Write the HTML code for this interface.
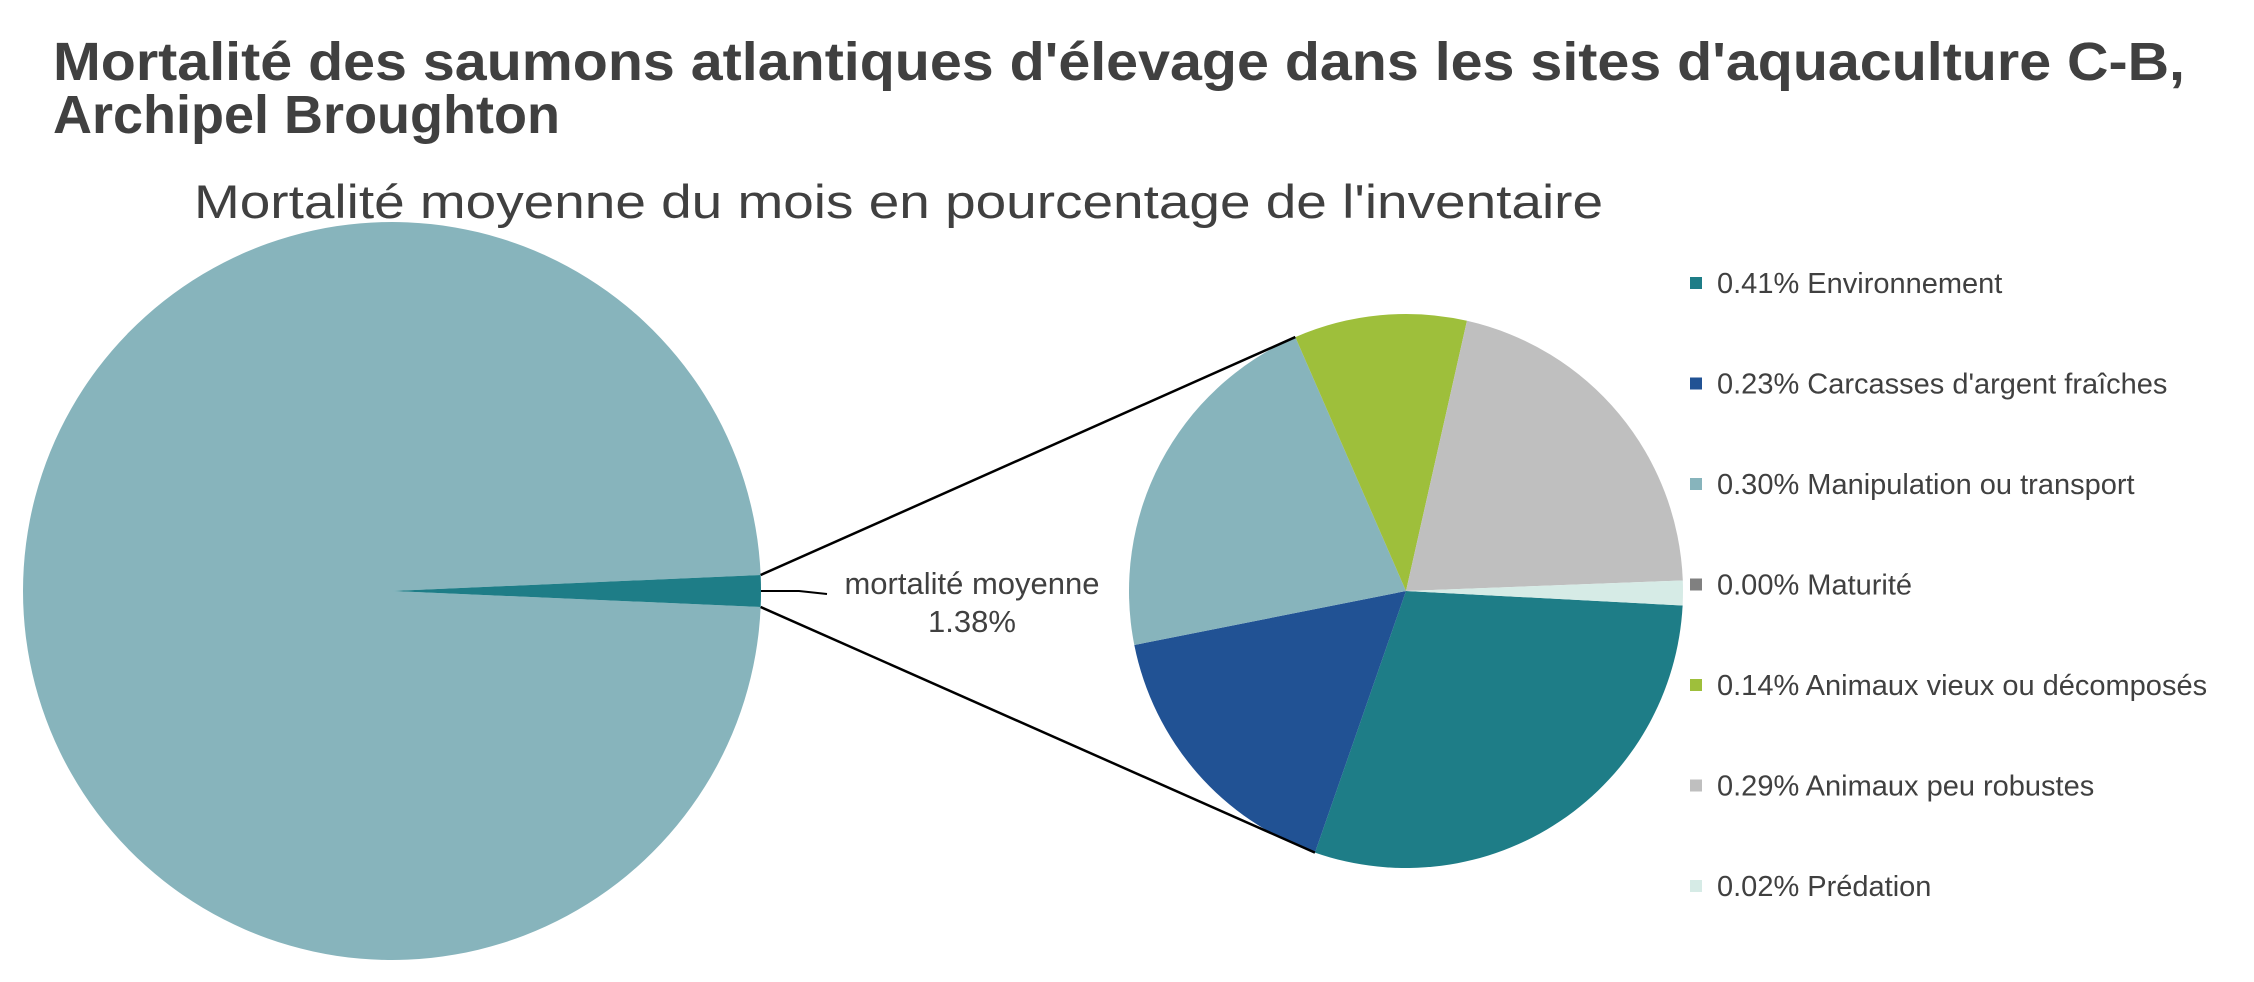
<!DOCTYPE html>
<html><head><meta charset="utf-8"><style>
html,body{margin:0;padding:0;background:#fff;}
svg{display:block;font-family:"Liberation Sans",Arial,sans-serif;}
</style></head><body>
<svg id="chart" width="2254" height="982" viewBox="0 0 2254 982">
<text x="53" y="80" font-size="54" font-weight="bold" fill="#404040" textLength="2132" lengthAdjust="spacingAndGlyphs">Mortalité des saumons atlantiques d'élevage dans les sites d'aquaculture C-B,</text>
<text x="53" y="133" font-size="54" font-weight="bold" fill="#404040">Archipel Broughton</text>
<text x="194" y="218" font-size="47" fill="#404040" textLength="1409" lengthAdjust="spacingAndGlyphs">Mortalité moyenne du mois en pourcentage de l'inventaire</text>
<g id="big"></g><g id="small"></g><g id="conn"></g><g id="legend"></g>
</svg>
<script>
const categories=["Environnement","Carcasses d'argent fraîches","Manipulation ou transport","Maturité","Animaux vieux ou décomposés","Animaux peu robustes","Prédation"];
const values=[0.41,0.23,0.30,0.00,0.14,0.29,0.02];
const labels=["0.41%","0.23%","0.30%","0.00%","0.14%","0.29%","0.02%"];
const totalLabel="1.38%";
const totalValue=1.38;
const colors=["#1e7d87","#215294","#87b4bc","#808080","#9ebf3b","#bfbfbf","#d6ebe6"];
const NS="http://www.w3.org/2000/svg";
function el(t,a,p){const e=document.createElementNS(NS,t);for(const k in a)e.setAttribute(k,a[k]);p.appendChild(e);return e;}
function pt(cx,cy,r,deg){const a=deg*Math.PI/180;return [cx+r*Math.cos(a),cy+r*Math.sin(a)];}
function arc(cx,cy,r,a0,a1){const p0=pt(cx,cy,r,a0),p1=pt(cx,cy,r,a1);const large=(a1-a0)>180?1:0;
 return `M${cx},${cy}L${p0[0]},${p0[1]}A${r},${r} 0 ${large} 1 ${p1[0]},${p1[1]}Z`;}
const B={cx:392,cy:591,r:369};
const big=document.getElementById('big');
const frac=totalValue/100*360;
const bigRest=el('path',{d:arc(B.cx,B.cy,B.r,frac/2,360-frac/2),fill:"#87b4bc"},big);


const bigSlice=el('path',{d:arc(B.cx,B.cy,B.r,-frac/2,frac/2),fill:"#1e7d87"},big);


const S={cx:1406,cy:591,r:277};
const small=document.getElementById('small');
const sum=values.reduce((a,b)=>a+b,0);
let a=3;const bounds=[];
values.forEach((v,i)=>{const span=v/sum*360;bounds.push([a,a+span]);
 if(span>0){const p=el('path',{d:arc(S.cx,S.cy,S.r,a,a+span),fill:colors[i]},small);
 
 }
 a+=span;});
const conn=document.getElementById('conn');
const bTop=pt(B.cx,B.cy,B.r,-frac/2),bBot=pt(B.cx,B.cy,B.r,frac/2);
const sTop=pt(S.cx,S.cy,S.r,bounds[2][1]),sBot=pt(S.cx,S.cy,S.r,bounds[0][1]);
const l1=el('line',{x1:bTop[0],y1:bTop[1],x2:sTop[0],y2:sTop[1],stroke:"#000","stroke-width":2.5},conn);


const l2=el('line',{x1:bBot[0],y1:bBot[1],x2:sBot[0],y2:sBot[1],stroke:"#000","stroke-width":2.5},conn);


const lead=el('polyline',{points:`${B.cx+B.r},${B.cy} 799,${B.cy} 827,${B.cy+3}`,fill:"none",stroke:"#000","stroke-width":2},conn);


const t1=el('text',{x:972,y:594,"font-size":31,fill:"#404040","text-anchor":"middle"},conn);t1.textContent="mortalité moyenne";


const t2=el('text',{x:972,y:632,"font-size":31,fill:"#404040","text-anchor":"middle"},conn);t2.textContent=totalLabel;


const lg=document.getElementById('legend');
categories.forEach((c,i)=>{const y=283+i*100.5;
 const r=el('rect',{x:1690,y:y-6,width:12,height:12,fill:colors[i]},lg);
 
 
 const t=el('text',{x:1717,y:y+10,"font-size":29,fill:"#404040"},lg);t.textContent=labels[i]+" "+c;
 
 });
</script>
</body></html>
